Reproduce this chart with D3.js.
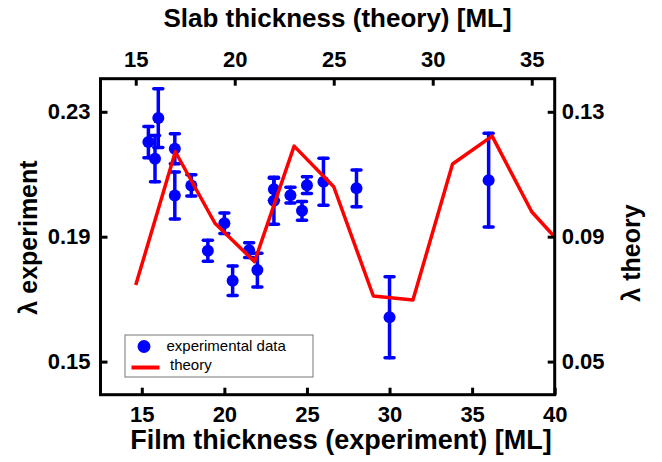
<!DOCTYPE html>
<html>
<head>
<meta charset="utf-8">
<script src="https://cdn.jsdelivr.net/npm/d3@7"></script>
<style>
  body { margin: 0; background: #fff; }
  svg text { font-family: "Liberation Sans", Arial, sans-serif; }
</style>
</head>
<body>
<div id="visual"></div>
<script>
var w = 662, h = 462;

// experimental data (film thickness in ML, lambda, error)
var expThickness = [15.4, 15.8, 16.0, 17.0, 17.0, 18.0, 19.0, 20.0, 20.5, 21.5, 22.0, 23.0, 23.0, 24.0, 24.7, 25.0, 26.0, 28.0, 30.0, 36.0];
var expLambda = [0.2203, 0.2150, 0.2280, 0.2182, 0.2032, 0.2064, 0.1855, 0.1943, 0.1759, 0.1857, 0.1793, 0.2052, 0.2015, 0.2033, 0.1983, 0.2065, 0.2076, 0.2055, 0.1642, 0.2081];
var expError = [0.005, 0.0074, 0.0094, 0.0048, 0.0075, 0.0034, 0.0034, 0.0033, 0.0047, 0.0024, 0.0054, 0.0035, 0.0075, 0.0025, 0.003, 0.0027, 0.0075, 0.0059, 0.013, 0.015];

// theory (slab thickness in ML, lambda)
var slabThickness = [15, 17, 19, 21, 23, 25, 27, 29, 31, 33, 35, 37];
var theoryLambda = [0.0745, 0.1172, 0.0943, 0.082, 0.119, 0.106, 0.071, 0.0697, 0.1133, 0.1222, 0.098, 0.084];

var bottomTicks = [15, 20, 25, 30, 35, 40];
var topTicks = [15, 20, 25, 30, 35];
var leftTicks = [0.15, 0.19, 0.23];
var rightTicks = [0.05, 0.09, 0.13];

// plot frame edges
var pL = 100.5, pR = 554.7, pT = 78.7, pB = 394.7;

var x = d3.scaleLinear().domain([12.5, 40]).range([pL, pR]);
var xTop = d3.scaleLinear().domain([13.22, 36.16]).range([pL, pR]);
var y = d3.scaleLinear().domain([0.1394, 0.2406]).range([pB, pT]);
var yRight = d3.scaleLinear().domain([0.0394, 0.1406]).range([pB, pT]);

var svg = d3.select("#visual").append("svg")
  .attr("width", w)
  .attr("height", h);

svg.append("defs").append("clipPath").attr("id", "plotclip")
  .append("rect")
  .attr("x", pL).attr("y", pT)
  .attr("width", pR - pL).attr("height", pB - pT);

var data = expThickness.map(function(d, i){
  return {x: d, y: expLambda[i], e: expError[i]};
});
var theory = slabThickness.map(function(d, i){
  return {x: d, y: theoryLambda[i]};
});

var plot = svg.append("g").attr("clip-path", "url(#plotclip)");

// error bars
var bars = plot.selectAll(".err")
  .data(data)
  .enter().append("g")
  .attr("class", "err")
  .style("stroke", "#0000ff")
  .style("stroke-width", 3.5)
  .style("stroke-linecap", "round");

bars.append("line")
  .attr("x1", function(d){ return x(d.x); })
  .attr("x2", function(d){ return x(d.x); })
  .attr("y1", function(d){ return y(d.y - d.e); })
  .attr("y2", function(d){ return y(d.y + d.e); });

bars.append("line")
  .attr("x1", function(d){ return x(d.x) - 4.5; })
  .attr("x2", function(d){ return x(d.x) + 4.5; })
  .attr("y1", function(d){ return y(d.y + d.e); })
  .attr("y2", function(d){ return y(d.y + d.e); });

bars.append("line")
  .attr("x1", function(d){ return x(d.x) - 4.5; })
  .attr("x2", function(d){ return x(d.x) + 4.5; })
  .attr("y1", function(d){ return y(d.y - d.e); })
  .attr("y2", function(d){ return y(d.y - d.e); });

plot.selectAll(".pt")
  .data(data)
  .enter().append("circle")
  .attr("class", "pt")
  .attr("cx", function(d){ return x(d.x); })
  .attr("cy", function(d){ return y(d.y); })
  .attr("r", 6)
  .style("fill", "#0000ff");

var line = d3.line()
  .x(function(d){ return xTop(d.x); })
  .y(function(d){ return yRight(d.y); });

plot.append("path")
  .datum(theory)
  .attr("d", line)
  .style("fill", "none")
  .style("stroke", "#ff0000")
  .style("stroke-width", 3.5)
  .style("stroke-linejoin", "round");

// axes, ticks point inward
function styleAxis(g) {
  g.select(".domain").remove();
  g.selectAll(".tick line").style("stroke", "#000").style("stroke-width", 3);
  g.selectAll(".tick text")
    .style("font-size", "22px")
    .style("font-weight", "bold")
    .style("fill", "#000");
}

svg.append("g")
  .attr("transform", "translate(0," + pB + ")")
  .call(d3.axisBottom(x).tickValues(bottomTicks).tickSize(-7).tickPadding(12).tickFormat(d3.format("d")))
  .call(styleAxis);

svg.append("g")
  .attr("transform", "translate(0," + pT + ")")
  .call(d3.axisTop(xTop).tickValues(topTicks).tickSize(-7).tickPadding(12).tickFormat(d3.format("d")))
  .call(styleAxis);

svg.append("g")
  .attr("transform", "translate(" + pL + ",0)")
  .call(d3.axisLeft(y).tickValues(leftTicks).tickSize(-7).tickPadding(10).tickFormat(d3.format(".2f")))
  .call(styleAxis);

svg.append("g")
  .attr("transform", "translate(" + pR + ",0)")
  .call(d3.axisRight(yRight).tickValues(rightTicks).tickSize(-7).tickPadding(7).tickFormat(d3.format(".2f")))
  .call(styleAxis);

// frame
svg.append("rect")
  .attr("x", pL).attr("y", pT)
  .attr("width", pR - pL).attr("height", pB - pT)
  .style("fill", "none")
  .style("stroke", "#000")
  .style("stroke-width", 3);

// titles
svg.append("text")
  .attr("x", 341).attr("y", 449)
  .attr("text-anchor", "middle")
  .style("font-size", "27px").style("font-weight", "bold")
  .text("Film thickness (experiment) [ML]");

svg.append("text")
  .attr("x", 337.5).attr("y", 27)
  .attr("text-anchor", "middle")
  .style("font-size", "26px").style("font-weight", "bold")
  .text("Slab thickness (theory) [ML]");

svg.append("text")
  .attr("transform", "translate(37,237.5) rotate(-90)")
  .attr("text-anchor", "middle")
  .style("font-size", "25px").style("font-weight", "bold")
  .text("λ experiment");

svg.append("text")
  .attr("transform", "translate(640,253) rotate(-90)")
  .attr("text-anchor", "middle")
  .style("font-size", "25px").style("font-weight", "bold")
  .text("λ theory");

// legend
var legend = svg.append("g");
legend.append("rect")
  .attr("x", 125).attr("y", 335)
  .attr("width", 188).attr("height", 42)
  .style("fill", "#fff")
  .style("stroke", "#777")
  .style("stroke-width", 1);

legend.append("circle")
  .attr("cx", 144).attr("cy", 346.5).attr("r", 6.5)
  .style("fill", "#0000ff");

legend.append("line")
  .attr("x1", 131.5).attr("x2", 159.5)
  .attr("y1", 367.5).attr("y2", 367.5)
  .style("stroke", "#ff0000").style("stroke-width", 4);

legend.append("text")
  .attr("x", 166.5).attr("y", 351)
  .style("font-size", "15px")
  .text("experimental data");

legend.append("text")
  .attr("x", 170).attr("y", 370)
  .style("font-size", "15px")
  .text("theory");
</script>
</body>
</html>
